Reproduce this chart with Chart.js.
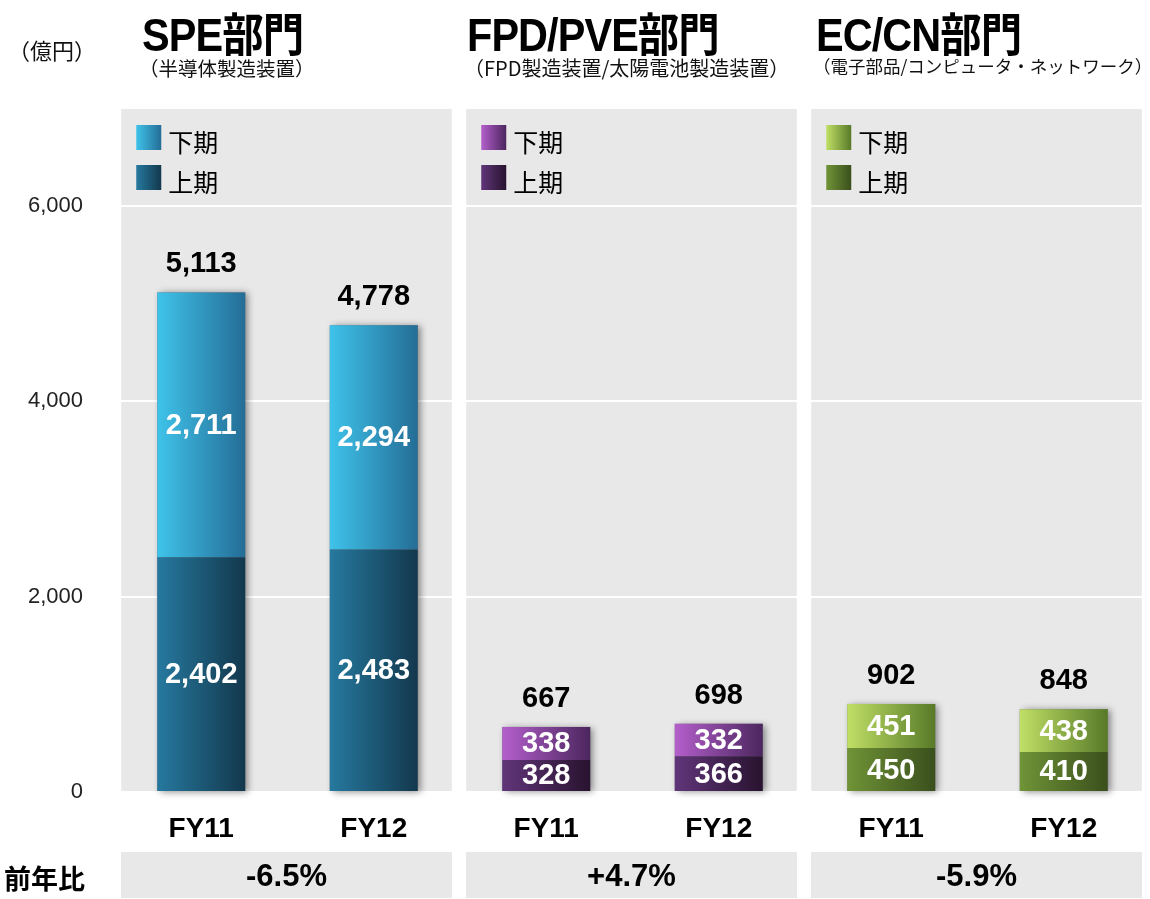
<!DOCTYPE html>
<html>
<head>
<meta charset="utf-8">
<script src="https://cdn.jsdelivr.net/npm/chart.js@4"></script>
<style>
  body { margin: 0; background: #fff; font-family: "Liberation Sans", "Noto Sans CJK JP", sans-serif; }
  #wrap { position: relative; width: 1150px; height: 899px; }
  #chartBox { position: absolute; left: 0; top: 0; width: 1150px; height: 899px; }
  .unit { position: absolute; left: 8px; top: 33px; font-size: 22px; font-family: "Noto Sans CJK JP", sans-serif; color: #111; }
  .title { position: absolute; top: -2px; font-size: 46px; font-weight: bold; color: #000; letter-spacing: -1px;
           transform: scaleX(0.9); transform-origin: left top; white-space: nowrap;
           font-family: "Liberation Sans", "Noto Sans CJK JP", sans-serif; }
  .sub { position: absolute; top: 53px; color: #111; white-space: nowrap; font-family: "Noto Sans CJK JP", sans-serif; }
  .yoyLabel { position: absolute; left: 4px; top: 858px; font-size: 27px; font-weight: bold; font-family: "Noto Sans CJK JP", sans-serif; }
  .yoy { position: absolute; top: 852px; height: 46px; line-height: 48px; background: #e8e8e8; text-align: center;
         font-size: 31px; font-weight: bold; }
</style>
</head>
<body>
<div id="wrap">
  <div id="chartBox"><canvas id="mychart"></canvas></div>
  <div class="unit">（億円）</div>
  <div id="heads"></div>
  <div class="yoyLabel">前年比</div>
</div>
<script>
/* [ Data ] */
const categories = ['FY11', 'FY12', 'FY11', 'FY12', 'FY11', 'FY12'];
const firstHalf = [2402, 2483, 328, 366, 450, 410];   // 上期
const secondHalf = [2711, 2294, 338, 332, 451, 438];  // 下期
const totals = [5113, 4778, 667, 698, 902, 848];
const segments = ['SPE部門', 'FPD/PVE部門', 'EC/CN部門'];
const subtitles = ['（半導体製造装置）', '（FPD製造装置/太陽電池製造装置）', '（電子部品/コンピュータ・ネットワーク）'];
const yoy = ['-6.5%', '+4.7%', '-5.9%'];
const yTicks = [0, 2000, 4000, 6000];

/* [ Colours ] */
const topColors = [['#3fc3ea', '#246d96'], ['#b45fcc', '#4b265e'], ['#c0df66', '#587a28']];
const bottomColors = [['#26799f', '#13384d'], ['#603579', '#28132f'], ['#709437', '#3a4f1c']];

const BAR_FRAC = 0.51;

/* [ Headings ] */
const titleX = [142, 467, 816];
const subSize = [19.5, 20, 17.5];
const heads = document.getElementById('heads');
for (let i = 0; i < segments.length; i++) {
    let t = document.createElement('div');
    t.className = 'title';
    t.style.left = titleX[i] + 'px';
    t.textContent = segments[i];
    heads.appendChild(t);
    let s = document.createElement('div');
    s.className = 'sub';
    s.style.left = (titleX[i] - 3) + 'px';
    s.style.fontSize = subSize[i] + 'px';
    s.textContent = subtitles[i];
    heads.appendChild(s);
}

function barGradient(context, pairs) {
    const chart = context.chart;
    const area = chart.chartArea;
    const panel = Math.floor(context.dataIndex / 2);
    const pair = pairs[panel];
    if (!area) return pair[0];
    const xs = chart.scales.x;
    const x = xs.getPixelForValue(context.dataIndex);
    const half = xs.width / categories.length * BAR_FRAC / 2;
    const g = chart.ctx.createLinearGradient(x - half, 0, x + half, 0);
    g.addColorStop(0, pair[0]);
    g.addColorStop(1, pair[1]);
    return g;
}

function panelBounds(chart) {
    const xs = chart.scales.x;
    const out = [];
    for (let p = 0; p < 3; p++) {
        out.push([xs.getPixelForValue(p * 2) - 80, xs.getPixelForValue(p * 2 + 1) + 78]);
    }
    return out;
}

/* [ Plugins ] */
const panelPlugin = {
    id: 'panels',
    beforeDraw(chart) {
        const c = chart.ctx, a = chart.chartArea;
        c.save();
        c.fillStyle = '#e8e8e8';
        panelBounds(chart).forEach(function (b) {
            c.fillRect(b[0], a.top + 1, b[1] - b[0], a.bottom - a.top - 1);
        });
        c.restore();
    },
    beforeDatasetsDraw(chart) {
        // drop shadow behind each stack
        const c = chart.ctx;
        const m0 = chart.getDatasetMeta(0), m1 = chart.getDatasetMeta(1);
        c.save();
        c.shadowColor = 'rgba(0,0,0,0.45)';
        c.shadowBlur = 7;
        c.shadowOffsetX = 3;
        c.shadowOffsetY = 1;
        c.fillStyle = '#777';
        for (let i = 0; i < categories.length; i++) {
            const top = m1.data[i], bot = m0.data[i];
            c.fillRect(top.x - top.width / 2, top.y, top.width, bot.base - top.y);
        }
        c.restore();
    },
    afterDatasetsDraw(chart) {
        const c = chart.ctx;
        const m0 = chart.getDatasetMeta(0), m1 = chart.getDatasetMeta(1);
        c.save();
        c.textAlign = 'center';
        c.textBaseline = 'middle';
        c.font = 'bold 29px "Liberation Sans", Arial, sans-serif';
        for (let i = 0; i < categories.length; i++) {
            const b = m0.data[i], t = m1.data[i];
            c.fillStyle = '#ffffff';
            c.fillText(firstHalf[i].toLocaleString('en-US'), b.x, (b.y + b.base) / 2 + 1);
            c.fillText(secondHalf[i].toLocaleString('en-US'), t.x, (t.y + t.base) / 2 + 1);
            c.fillStyle = '#000000';
            c.fillText(totals[i].toLocaleString('en-US'), t.x, t.y - 28);
        }
        // legends inside each panel
        c.textAlign = 'left';
        c.font = '25px "Noto Sans CJK JP", sans-serif';
        panelBounds(chart).forEach(function (b, p) {
            const x0 = b[0] + 15;
            const items = [[topColors[p], '下期', 125], [bottomColors[p], '上期', 165]];
            items.forEach(function (it) {
                const g = c.createLinearGradient(x0, 0, x0 + 25, 0);
                g.addColorStop(0, it[0][0]);
                g.addColorStop(1, it[0][1]);
                c.fillStyle = g;
                c.fillRect(x0, it[2], 25, 25);
                c.fillStyle = '#000';
                c.fillText(it[1], x0 + 32, it[2] + 17);
            });
        });
        c.restore();
    }
};

/* [ Chart ] */
const ctx1 = document.getElementById('mychart').getContext('2d');
let mychart = new Chart(ctx1, {
    type: 'bar',
    data: {
        labels: categories,
        datasets: [
            {
                label: '上期',
                data: firstHalf,
                backgroundColor: function (context) { return barGradient(context, bottomColors); },
                borderWidth: 0,
                barPercentage: BAR_FRAC,
                categoryPercentage: 1
            },
            {
                label: '下期',
                data: secondHalf,
                backgroundColor: function (context) { return barGradient(context, topColors); },
                borderWidth: 0,
                barPercentage: BAR_FRAC,
                categoryPercentage: 1
            }
        ]
    },
    options: {
        responsive: true,
        maintainAspectRatio: false,
        animation: false,
        layout: { padding: { top: 108, right: 0, left: 0, bottom: 0 } },
        plugins: { legend: { display: false }, tooltip: { enabled: false } },
        scales: {
            x: {
                stacked: true,
                grid: { display: false, drawTicks: false },
                border: { display: false },
                afterFit: function (axis) { axis.height = 107; },
                ticks: {
                    padding: 20,
                    color: '#000',
                    font: { family: '"Liberation Sans", Arial, sans-serif', size: 28, weight: 'bold' }
                }
            },
            y: {
                stacked: true,
                min: 0,
                max: 7000,
                afterFit: function (axis) { axis.width = 115; },
                afterBuildTicks: function (axis) {
                    axis.ticks = yTicks.map(function (v) { return { value: v }; });
                },
                grid: { color: '#ffffff', lineWidth: 2, drawTicks: false },
                border: { display: false },
                ticks: {
                    padding: 32,
                    color: '#222',
                    font: { family: '"Liberation Sans", Arial, sans-serif', size: 22 }
                }
            }
        }
    },
    plugins: [panelPlugin]
});

/* [ Year-on-year boxes ] */
const bounds = panelBounds(mychart);
const wrap = document.getElementById('wrap');
for (let p = 0; p < yoy.length; p++) {
    let d = document.createElement('div');
    d.className = 'yoy';
    d.style.left = bounds[p][0] + 'px';
    d.style.width = (bounds[p][1] - bounds[p][0]) + 'px';
    d.textContent = yoy[p];
    wrap.appendChild(d);
}
</script>
</body>
</html>
